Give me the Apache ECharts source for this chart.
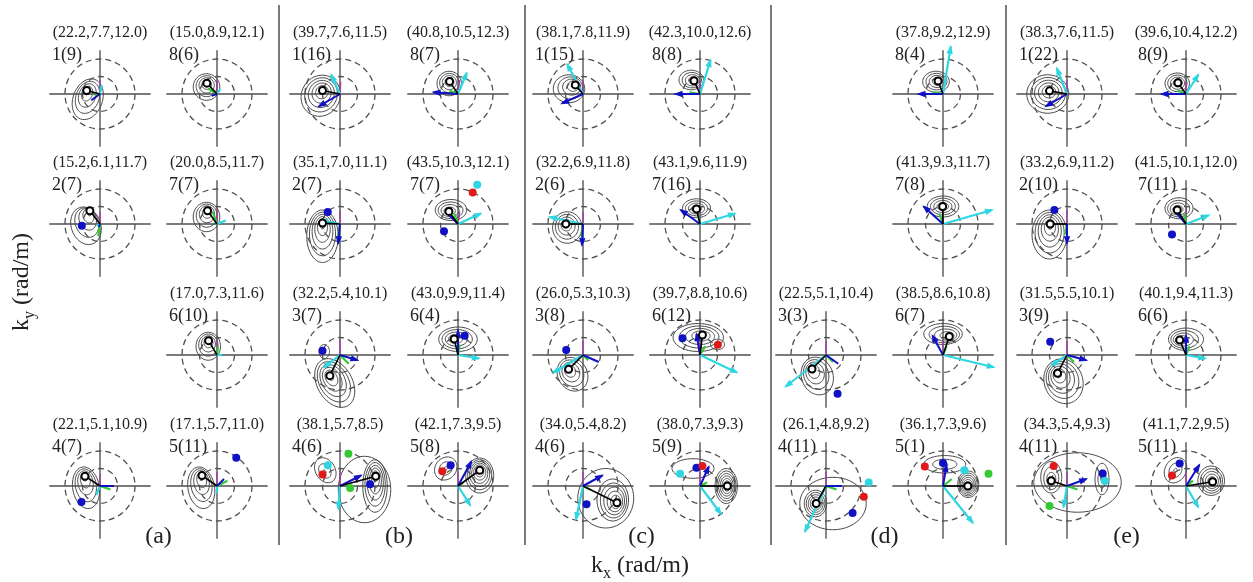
<!DOCTYPE html>
<html><head><meta charset="utf-8">
<script src="https://cdn.jsdelivr.net/npm/echarts@6/dist/echarts.min.js"></script>
<style>html,body{margin:0;padding:0;background:#fff}#c{width:1253px;height:582px}</style>
</head><body><div id="c"></div><script>
// ---------- data ----------
const panelTitles = [
 '(22.2,7.7,12.0)','(15.0,8.9,12.1)','(15.2,6.1,11.7)','(20.0,8.5,11.7)','(17.0,7.3,11.6)','(22.1,5.1,10.9)','(17.1,5.7,11.0)',
 '(39.7,7.6,11.5)','(40.8,10.5,12.3)','(35.1,7.0,11.1)','(43.5,10.3,12.1)','(32.2,5.4,10.1)','(43.0,9.9,11.4)','(38.1,5.7,8.5)','(42.1,7.3,9.5)',
 '(38.1,7.8,11.9)','(42.3,10.0,12.6)','(32.2,6.9,11.8)','(43.1,9.6,11.9)','(26.0,5.3,10.3)','(39.7,8.8,10.6)','(34.0,5.4,8.2)','(38.0,7.3,9.3)',
 '(37.8,9.2,12.9)','(41.3,9.3,11.7)','(22.5,5.1,10.4)','(38.5,8.6,10.8)','(26.1,4.8,9.2)','(36.1,7.3,9.6)',
 '(38.3,7.6,11.5)','(39.6,10.4,12.2)','(33.2,6.9,11.2)','(41.5,10.1,12.0)','(31.5,5.5,10.1)','(40.1,9.4,11.3)','(34.3,5.4,9.3)','(41.1,7.2,9.5)'];
const panelLabels = [
 '1(9)','8(6)','2(7)','7(7)','6(10)','4(7)','5(11)',
 '1(16)','8(7)','2(7)','7(7)','3(7)','6(4)','4(6)','5(8)',
 '1(15)','8(8)','2(6)','7(16)','3(8)','6(12)','4(6)','5(9)',
 '8(4)','7(8)','3(3)','6(7)','4(11)','5(1)',
 '1(22)','8(9)','2(10)','7(11)','3(9)','6(6)','4(11)','5(11)'];
// [column, row] slot of each panel
const panelSlots = [[0,0],[1,0],[0,1],[1,1],[1,2],[0,3],[1,3],
 [2,0],[3,0],[2,1],[3,1],[2,2],[3,2],[2,3],[3,3],
 [4,0],[5,0],[4,1],[5,1],[4,2],[5,2],[4,3],[5,3],
 [7,0],[7,1],[6,2],[7,2],[6,3],[7,3],
 [8,0],[9,0],[8,1],[9,1],[8,2],[9,2],[8,3],[9,3]];
const panelPeaks = [[-0.38,0.10],[-0.29,0.31],[-0.29,0.38],[-0.27,0.38],[-0.24,0.41],[-0.43,0.28],[-0.43,0.30],
 [-0.50,0.10],[-0.24,0.36],[-0.50,0.03],[-0.26,0.36],[-0.29,-0.59],[-0.11,0.46],[1.02,0.28],[0.62,0.45],
 [-0.22,0.26],[-0.17,0.38],[-0.49,0.0],[-0.10,0.43],[-0.41,-0.41],[0.07,0.57],[0.97,-0.48],[0.78,0.0],
 [-0.14,0.37],[-0.01,0.50],[-0.40,-0.40],[0.18,0.53],[-0.28,-0.50],[0.71,0.0],
 [-0.50,0.09],[-0.23,0.32],[-0.48,0.0],[-0.25,0.40],[-0.27,-0.52],[-0.18,0.43],[-0.45,0.15],[0.76,0.12]];
const arrowsBlue = [[-0.25,-0.18],[-0.15,-0.05],[-0.03,-0.08],null,null,[0.4,0],[0.2,0.2],
 [-0.6,-0.35],[-0.7,0.05],[-0.05,-0.55],[-0.35,0.35],[0.5,-0.15],[0.0,0.7],[0.6,0.3],[0.38,0.7],
 [-0.6,-0.27],[-0.7,0],[-0.03,-0.6],[-0.55,0.4],[0.45,-0.2],[-0.1,0.6],[0.55,0.3],[0.25,0.55],
 [-0.7,0],[-0.55,0.5],[0.35,-0.25],[-0.3,0.55],[0.45,0],[0.1,0.6],
 [-0.6,-0.35],[-0.7,0],[0,-0.55],[-0.3,0.35],[0.55,-0.15],[0,0.55],[0.55,0.2],[0.38,0.6]];
const arrowsCyan = [[0.05,0.25],[0.1,0.15],[-0.1,-0.05],[0.25,0.1],[0.15,0],[-0.1,-0.25],[0,-0.2],
 [-0.25,0.55],[0.25,0.6],[-0.55,0.1],[0.65,0.3],[-0.45,-0.35],[0.6,-0.1],[-0.05,-0.65],[0.35,-0.55],
 [-0.45,0.85],[0.3,0.97],[-0.95,0.2],[1.0,0.3],[-0.85,-0.5],[1.05,-0.5],[-0.2,-0.95],[0.6,-0.8],
 [0.22,1.35],[1.4,0.4],[-1.15,-0.9],[1.45,-0.35],[-0.6,-1.3],[0.85,-1.05],
 [-0.29,0.73],[0.35,0.55],null,[0.65,0.25],[-0.45,-0.3],[0.55,-0.1],[-0.1,-0.6],[0.35,-0.6]];
const arrowsGreen = [[-0.15,-0.05],[-0.25,0.15],[-0.05,-0.35],[-0.12,0.35],[0.03,0.25],[0.3,-0.1],[0.3,0.15],
 null,[-0.25,0.1],[-0.05,-0.35],[-0.1,0.3],[0.25,-0.25],[0.05,0.3],null,[0.15,0.1],
 null,[-0.3,0.05],[-0.05,-0.35],[-0.05,0.3],[0.15,-0.15],[0.15,0.25],[0.2,-0.1],[0.2,0.1],
 [-0.3,0.05],[-0.1,0.3],[0.2,-0.2],[0.1,0.25],[0.3,-0.1],[0.25,0.2],
 null,[-0.25,0.1],[-0.05,-0.3],[-0.05,0.3],[0.2,-0.2],[0.1,0.25],[0.3,-0.1],[0.2,0.15]];
const arrowsMagenta = [[0,0.4],[0,0.4],[0,0.35],[0,0.4],[0,0.45],[0,0.35],[0,0.4],
 [0.02,0.35],[0.05,0.4],[0,0.4],[0.05,0.35],[0,0.45],[0,0.4],[0,0.45],[0,0.4],
 [0,0.4],[0,0.4],[0,0.35],[0,0.35],[0,0.4],[0,0.35],[0,0.4],[0,0.4],
 [0.05,0.4],[0,0.35],[0,0.4],[0,0.4],[0,0.4],[0,0.4],
 [0,0.4],[0,0.35],[0,0.4],[0,0.4],[0,0.4],[0,0.4],[0,0.4],[0,0.4]];
// [panel, kx, ky]
const dotsBlue = [[2,-0.52,-0.05],[5,-0.53,-0.46],[6,0.55,0.81],[9,-0.35,0.34],[10,-0.40,-0.21],[11,-0.50,0.12],[12,0.19,0.55],
 [13,0.86,0.05],[14,-0.21,0.59],[19,-0.48,0.14],[20,-0.5,0.48],[21,0.1,-0.52],[22,-0.1,0.52],[25,0.33,-1.11],[27,0.76,-0.77],
 [28,0,0.66],[31,-0.36,0.4],[32,-0.4,-0.3],[33,-0.48,0.38],[35,1.02,0.36],[36,-0.18,0.64]];
const dotsRed = [[10,0.42,0.9],[13,-0.5,0.33],[14,-0.45,0.42],[20,0.51,0.29],[22,0.07,0.57],[27,1.08,-0.31],[28,-0.52,0.56],[35,-0.38,0.57],[36,-0.4,0.3]];
const dotsCyan = [[10,0.55,1.12],[13,-0.35,0.59],[22,-0.57,0.35],[27,1.22,0.1],[28,0.61,0.45],[35,1.08,0.14]];
const dotsGreen = [[13,0.24,0.92],[13,0.29,-0.06],[28,1.3,0.35],[35,-0.5,-0.57]];
// contour blobs: [panel, cx, cy, rx, ry, rotationDeg, levels, focusX, focusY]
const contourBlobs = [
 [0,-0.35,-0.15,0.42,0.6,-20,5,-0.38,0.10],
 [1,-0.3,0.2,0.38,0.38,0,5,-0.29,0.31],
 [2,-0.4,-0.05,0.42,0.55,20,5,-0.29,0.38],
 [3,-0.3,0.2,0.38,0.42,0,5,-0.27,0.38],
 [4,-0.25,0.25,0.35,0.4,0,5,-0.24,0.41],
 [5,-0.4,-0.05,0.38,0.6,10,5,-0.43,0.28],
 [6,-0.45,-0.05,0.38,0.6,10,5,-0.43,0.30],
 [7,-0.55,-0.05,0.55,0.6,-30,6,-0.50,0.10],
 [8,-0.25,0.3,0.35,0.35,0,5,-0.24,0.36],
 [9,-0.5,-0.35,0.45,0.75,0,6,-0.50,0.03],
 [10,-0.2,0.4,0.45,0.3,0,5,-0.26,0.36],
 [11,-0.15,-0.8,0.5,0.75,30,6,-0.29,-0.59],
 [11,-0.45,0.1,0.15,0.2,0,1,-0.45,0.1],
 [12,0,0.45,0.55,0.35,0,5,-0.11,0.46],
 [13,1.0,0.0,0.35,0.75,0,6,1.02,0.28],
 [13,0.7,-0.1,0.75,0.95,0,1,0.7,-0.1],
 [13,-0.42,0.45,0.28,0.38,30,3,-0.45,0.4],
 [14,0.62,0.3,0.4,0.5,0,7,0.62,0.45],
 [14,-0.35,0.5,0.3,0.35,-40,3,-0.35,0.5],
 [15,-0.4,0.15,0.45,0.4,0,5,-0.22,0.26],
 [16,-0.25,0.4,0.35,0.28,0,5,-0.17,0.38],
 [17,-0.45,-0.1,0.42,0.45,0,5,-0.49,0.0],
 [18,-0.1,0.45,0.4,0.27,0,5,-0.10,0.43],
 [19,-0.3,-0.55,0.42,0.5,30,5,-0.41,-0.41],
 [20,-0.05,0.5,0.72,0.4,0,5,0.07,0.57],
 [20,0.5,0.3,0.2,0.15,0,1,0.5,0.3],
 [21,0.85,-0.4,0.45,0.6,0,6,0.97,-0.48],
 [21,0.65,-0.35,0.8,0.85,0,1,0.65,-0.35],
 [22,0.75,0.0,0.32,0.5,0,7,0.78,0.0],
 [22,-0.2,0.5,0.6,0.28,0,2,-0.1,0.5],
 [23,-0.2,0.35,0.38,0.3,0,5,-0.14,0.37],
 [24,0,0.5,0.45,0.3,0,5,-0.01,0.50],
 [25,-0.25,-0.6,0.45,0.55,20,5,-0.40,-0.40],
 [26,0,0.6,0.55,0.3,0,5,0.18,0.53],
 [27,-0.3,-0.5,0.32,0.38,0,6,-0.28,-0.50],
 [27,0.2,-0.5,0.95,0.75,0,1,0.2,-0.5],
 [28,0.72,0.05,0.3,0.38,0,7,0.71,0.0],
 [28,0.05,0.62,0.6,0.25,0,3,0.05,0.62],
 [29,-0.55,0,0.6,0.55,0,6,-0.50,0.09],
 [30,-0.25,0.3,0.35,0.3,0,5,-0.23,0.32],
 [31,-0.5,-0.3,0.5,0.7,0,6,-0.48,0.0],
 [32,-0.2,0.45,0.4,0.3,0,5,-0.25,0.40],
 [33,-0.1,-0.75,0.55,0.65,20,6,-0.27,-0.52],
 [34,0,0.45,0.5,0.32,0,5,-0.18,0.43],
 [35,-0.45,0.25,0.3,0.45,0,4,-0.45,0.15],
 [35,1.0,0.2,0.2,0.45,0,3,1.0,0.2],
 [35,0.3,0.1,1.25,0.85,0,1,0.3,0.1],
 [36,0.72,0.15,0.38,0.42,0,6,0.76,0.12],
 [36,-0.3,0.45,0.3,0.38,-30,3,-0.3,0.45]];
const ringRadii = [1, 0.5];
const groupLetters = ['(a)','(b)','(c)','(d)','(e)'];

// ---------- layout ----------
const colX = [100, 217, 340, 458, 583, 700, 826, 943, 1067, 1186];
const rowY = [94, 224, 355, 486];
const sepX = [279, 525, 771, 1006];
const PX = 35; // pixels per unit
const SERIF = '"Liberation Serif","DejaVu Serif",serif';
const PAL = ['#000000', '#1010c4', '#2fd6e2', '#33c933', '#a040a8', '#e01a1a'];

function ringItem(params, api) {
  const c = api.coord([api.value(0), api.value(1)]);
  const r = api.size([api.value(2), api.value(2)])[0];
  return {type: 'circle', shape: {cx: c[0], cy: c[1], r: r},
    style: {fill: 'none', stroke: '#505050', lineWidth: 1.3, lineDash: [6, 4]}};
}
function contourItem(params, api) {
  const cx = api.value(0), cy = api.value(1), rx = api.value(2), ry = api.value(3);
  const rot = api.value(4) * Math.PI / 180, n = api.value(5), fx = api.value(6), fy = api.value(7);
  const children = [];
  for (let k = 0; k < n; k++) {
    const t = n === 1 ? 1 : 1 - k * (0.85 / (n - 1));
    const ccx = fx + (cx - fx) * t, ccy = fy + (cy - fy) * t;
    const pts = [];
    for (let j = 0; j < 48; j++) {
      const a = j / 48 * 2 * Math.PI;
      const ex = rx * t * Math.cos(a), ey = ry * t * Math.sin(a);
      pts.push(api.coord([ccx + ex * Math.cos(rot) - ey * Math.sin(rot), ccy + ex * Math.sin(rot) + ey * Math.cos(rot)]));
    }
    children.push({type: 'polygon', shape: {points: pts}, style: {fill: 'none', stroke: '#4a4a4a', lineWidth: 1}});
  }
  return {type: 'group', children: children};
}
function arrowItem(params, api) {
  const o = api.coord([0, 0]);
  const p = api.coord([api.value(0), api.value(1)]);
  const col = PAL[api.value(2)];
  const lw = api.value(3);
  const children = [{type: 'line', shape: {x1: o[0], y1: o[1], x2: p[0], y2: p[1]}, style: {stroke: col, lineWidth: lw}}];
  const dx = p[0] - o[0], dy = p[1] - o[1], len = Math.hypot(dx, dy);
  if (api.value(4) && len > 18) {
    const ux = dx / len, uy = dy / len, L = 7, W = 3.2;
    const bx = p[0] - ux * L, by = p[1] - uy * L;
    children.push({type: 'polygon', shape: {points: [[p[0] + ux * 2, p[1] + uy * 2], [bx - uy * W, by + ux * W], [bx + uy * W, by - ux * W]]}, style: {fill: col}});
  }
  return {type: 'group', children: children};
}

const grids = [], xAxes = [], yAxes = [], series = [], graphics = [];
const axisStyle = {show: true, onZero: true, lineStyle: {color: '#7a7a7a', width: 1.8}};
panelSlots.forEach(function (slot, i) {
  const cx = colX[slot[0]], cy = rowY[slot[1]];
  grids.push({left: cx - 50, top: cy - 43, width: 100, height: 95});
  xAxes.push({type: 'value', gridIndex: i, min: -50 / PX, max: 50 / PX, axisLine: axisStyle,
    axisTick: {show: false}, axisLabel: {show: false}, splitLine: {show: false}});
  yAxes.push({type: 'value', gridIndex: i, min: -52 / PX, max: 43 / PX, axisLine: axisStyle,
    axisTick: {show: false}, axisLabel: {show: false}, splitLine: {show: false}});
  const ax = {xAxisIndex: i, yAxisIndex: i};
  series.push(Object.assign({type: 'custom', renderItem: contourItem, clip: false, silent: true, z: 2,
    data: contourBlobs.filter(r => r[0] === i).map(r => r.slice(1))}, ax));
  series.push(Object.assign({type: 'custom', renderItem: ringItem, clip: false, silent: true, z: 3,
    data: ringRadii.map(r => [0, 0, r])}, ax));
  const arr = [];
  const pk = panelPeaks[i];
  if (arrowsMagenta[i]) arr.push([arrowsMagenta[i][0], arrowsMagenta[i][1], 4, 1.4, 0]);
  if (arrowsGreen[i]) arr.push([arrowsGreen[i][0], arrowsGreen[i][1], 3, 2.2, 0]);
  if (arrowsCyan[i]) arr.push([arrowsCyan[i][0], arrowsCyan[i][1], 2, 2.2, 1]);
  if (arrowsBlue[i]) arr.push([arrowsBlue[i][0], arrowsBlue[i][1], 1, 2, 1]);
  arr.push([pk[0], pk[1], 0, 1.6, 0]);
  series.push(Object.assign({type: 'custom', renderItem: arrowItem, clip: false, silent: true, z: 4, data: arr}, ax));
  const dots = [];
  [[dotsBlue, 1], [dotsRed, 5], [dotsCyan, 2], [dotsGreen, 3]].forEach(function (d) {
    d[0].filter(r => r[0] === i).forEach(r => dots.push({value: [r[1], r[2]], itemStyle: {color: PAL[d[1]], opacity: 1}}));
  });
  series.push(Object.assign({type: 'scatter', symbol: 'circle', symbolSize: 8, clip: false, silent: true, z: 5,
    itemStyle: {opacity: 1}, data: dots}, ax));
  series.push(Object.assign({type: 'scatter', symbol: 'circle', symbolSize: 7, clip: false, silent: true, z: 6,
    itemStyle: {color: '#fff', borderColor: '#000', borderWidth: 2, opacity: 1}, data: [pk]}, ax));
  graphics.push({type: 'text', x: cx, y: cy - 61, style: {text: panelTitles[i], font: '16px ' + SERIF, fill: '#222',
    align: 'center', verticalAlign: 'middle', textAlign: 'center', textVerticalAlign: 'middle'}});
  graphics.push({type: 'text', x: cx - 48, y: cy - 39, style: {text: panelLabels[i], font: '18px ' + SERIF, fill: '#222',
    align: 'left', verticalAlign: 'middle', textAlign: 'left', textVerticalAlign: 'middle'}});
});
groupLetters.forEach(function (g, j) {
  graphics.push({type: 'text', x: (colX[2 * j] + colX[2 * j + 1]) / 2, y: 537, style: {text: g, font: '24px ' + SERIF, fill: '#222',
    align: 'center', verticalAlign: 'middle', textAlign: 'center', textVerticalAlign: 'middle'}});
});
sepX.forEach(function (x) {
  graphics.push({type: 'line', shape: {x1: x, y1: 5, x2: x, y2: 545}, style: {stroke: '#7a7a7a', lineWidth: 2}});
});
const rich = {a: {font: '24px ' + SERIF, fill: '#222', lineHeight: 32, verticalAlign: 'middle'},
  b: {font: '16px ' + SERIF, fill: '#222', lineHeight: 32, verticalAlign: 'bottom'}};
graphics.push({type: 'text', x: 640, y: 566, style: {text: '{a|k}{b|x}{a| (rad/m)}', rich: rich,
  align: 'center', verticalAlign: 'middle', textAlign: 'center', textVerticalAlign: 'middle'}});
graphics.push({type: 'text', x: 22, y: 282, rotation: Math.PI / 2, style: {text: '{a|k}{b|y}{a| (rad/m)}', rich: rich,
  align: 'center', verticalAlign: 'middle', textAlign: 'center', textVerticalAlign: 'middle'}});

const chart = echarts.init(document.getElementById('c'), null, {renderer: 'canvas'});
chart.setOption({animation: false, backgroundColor: '#fff', grid: grids, xAxis: xAxes, yAxis: yAxes, series: series, graphic: graphics});
</script></body></html>
